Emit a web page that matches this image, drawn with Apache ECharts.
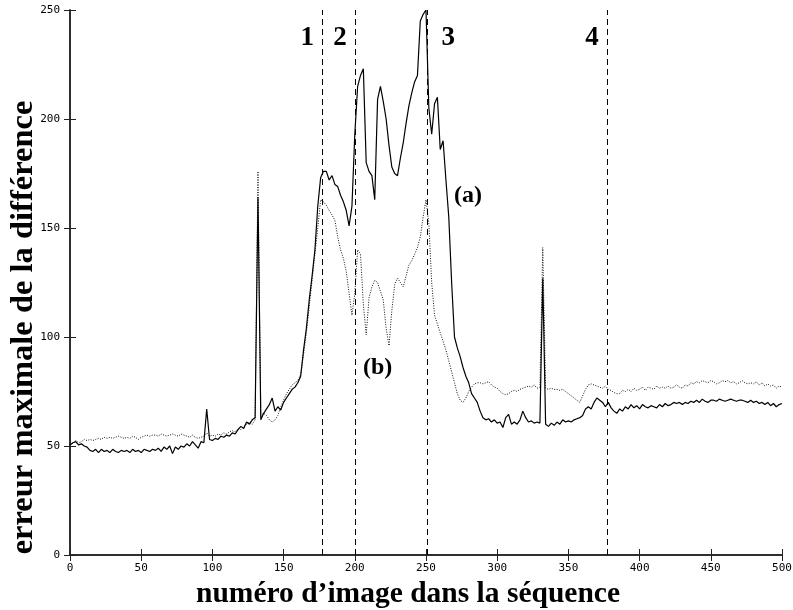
<!DOCTYPE html>
<html>
<head>
<meta charset="utf-8">
<script src="https://cdn.jsdelivr.net/npm/echarts@6/dist/echarts.min.js"></script>
<style>
html,body{margin:0;padding:0;background:#fff;}
#chart{width:793px;height:610px;}
</style>
</head>
<body>
<div id="chart"></div>
<script>
// Frame numbers sampled every 2 frames, 0..500
const frames = [];
for (let f = 0; f <= 500; f += 2) frames.push(f);

// (a) solid curve
const curveA = [
  50.5, 51.5, 52, 50.5, 51, 50, 49.5, 48, 47.5, 48.5,
  47, 48.5, 47.5, 48, 47, 48.5, 47.5, 47, 48, 47.5,
  48, 47, 48.5, 47.5, 48, 47, 48.5, 48, 47.5, 48.5,
  48, 49, 47.5, 49.5, 48.5, 50, 46.5, 49.5, 48.5, 50,
  49.5, 51, 50, 52, 50.5, 49, 52, 51.5, 67, 53,
  52.5, 53.5, 53, 54.5, 54, 55, 54.5, 56, 55.5, 57.5,
  59, 58, 61, 60, 62, 63, 164, 62, 65, 67,
  69, 72, 66, 68, 66.5, 70, 72, 74, 76, 77,
  79, 82, 94, 104, 117, 128, 140, 160, 173, 176,
  176, 172, 174, 170, 169, 165, 162, 158, 151, 160,
  193, 215, 220, 223, 180, 176, 174, 163, 209, 215,
  208, 200, 188, 178, 175, 174, 182, 189, 198, 206,
  212, 217, 220, 245, 248, 250, 205, 193, 207, 210,
  186, 190, 172, 155, 125, 100, 95, 91, 86, 82,
  79, 74, 72, 70, 66, 63, 62, 62.5, 61, 62,
  60.5, 61, 58.5, 63, 64.5, 60, 61, 60, 62, 66,
  63, 61, 61.5, 60.5, 61, 60.5, 127, 60, 59, 60.5,
  59.5, 61, 60, 62, 61, 61.5, 61, 62, 62.5, 63,
  64, 67, 68, 67, 70, 72, 71, 70, 68, 70,
  67.5, 66, 65, 67, 66, 68, 67, 69, 67.5, 68.5,
  67, 69, 68, 67.5, 68.5, 68, 67.5, 69, 68, 69.5,
  68.5, 69, 70, 69.5, 70, 69, 70, 69.5, 70.5, 70,
  71, 70, 71.5, 70.5, 70, 71, 71, 70.5, 71.5, 71,
  70.5, 71, 71.5, 71, 70.5, 71, 71, 70.5, 70, 71,
  70, 70.5, 69.5, 70, 69, 70, 68.5, 69.5, 68, 69,
  69.5
];

// (b) dotted curve
const curveB = [
  52, 51, 52.5, 51.5, 52, 53, 52.5, 53, 52.5, 53,
  53.5, 53, 54, 53.5, 54, 53.5, 54, 54.5, 54, 53.5,
  54, 53.5, 54.5, 54, 53, 54, 54.5, 55, 54.5, 55,
  55, 54.5, 55.5, 55, 54.5, 55, 55.5, 55, 54.5, 55.5,
  55, 54.5, 54, 55, 54, 53.5, 54, 54.5, 56, 54.5,
  55, 54.5, 55.5, 55, 56, 55.5, 56.5, 57, 56.5, 58,
  57.5, 59, 60, 61, 60, 62, 176, 64, 65, 64,
  62, 61, 62, 64, 68, 71, 74, 76, 78, 79,
  80, 83, 92, 102, 114, 126, 138, 150, 163, 162,
  160.5, 158, 156, 153.5, 146, 140, 136, 130, 120, 110,
  120, 140, 138, 115, 101, 118, 123, 126, 125, 121,
  117, 104, 96, 112, 124, 127, 125, 123, 128, 133,
  135, 138, 141, 146, 155, 163, 152, 125, 110, 106,
  102, 98, 94, 89, 84, 79, 74, 71, 70, 72,
  75, 77, 78.5, 79, 79, 78.5, 79, 79.5, 78, 77,
  76.5, 75, 74, 73.5, 74, 75, 75.5, 75, 76, 76.5,
  77, 77.5, 77, 78, 76.5, 77, 141, 76.5, 76, 76.5,
  76, 76, 75.5, 76, 75, 74, 73, 72, 71, 70,
  73, 76, 78, 78.5, 78, 77.5, 77, 76.5, 77.5, 76,
  75.5, 74.5, 74, 74, 75.5, 75, 76, 75, 76.5, 75.5,
  76, 77, 75.5, 77, 76.5, 76, 77.5, 76.5, 77, 76.5,
  77.5, 76.5, 77, 78, 77, 76.5, 78, 77.5, 79, 78.5,
  79.5, 79, 80, 79.5, 79, 80, 79.5, 78.5, 79, 80,
  79.5, 80, 79, 79.5, 78.5, 79, 80, 79, 78.5, 79,
  78.5, 79.5, 78, 79, 77.5, 78.5, 77.5, 78, 76.5, 77.5,
  77
];

// Event markers (dashed vertical lines)
const eventFrames = [177, 200, 251, 377];
const eventLabels = ['1', '2', '3', '4'];
const eventLabelSide = ['left', 'left', 'right', 'left'];
const eventLabelValue = 237;

// Curve annotations
const annotFrames = [279.5, 216];
const annotValues = [165, 86];
const annotLabels = ['(a)', '(b)'];

const xTicks = { min: 0, max: 500, interval: 50 };
const yTicks = { min: 0, max: 250, interval: 50 };

const serifFamily = '"Liberation Serif", "DejaVu Serif", serif';
const monoLabel = { fontFamily: '"DejaVu Sans Mono", "Liberation Mono", monospace', fontSize: 11, color: '#000' };

const pairsA = frames.map((f, i) => [f, curveA[i]]);
const pairsB = frames.map((f, i) => [f, curveB[i]]);

const axisLineStyle = { show: true, lineStyle: { color: '#222', width: 1.5 } };
const tickStyle = { show: true, inside: true, length: 6, lineStyle: { color: '#222', width: 1 } };

const chart = echarts.init(document.getElementById('chart'), null, { renderer: 'canvas' });
chart.setOption({
  animation: false,
  backgroundColor: '#fff',
  grid: { left: 70, right: 11, top: 10, bottom: 55, containLabel: false, outerBoundsMode: 'none' },
  xAxis: [
    {
      type: 'value', position: 'bottom', min: xTicks.min, max: xTicks.max, interval: xTicks.interval,
      axisLine: axisLineStyle, axisTick: tickStyle, splitLine: { show: false },
      axisLabel: Object.assign({ margin: 8 }, monoLabel),
      name: 'numéro d’image dans la séquence', nameLocation: 'middle', nameGap: 23,
      nameTextStyle: { fontFamily: serifFamily, fontWeight: 'bold', fontSize: 29.5, color: '#000', padding: [0, 36, 0, 0] }
    },
    {
      type: 'value', position: 'top', min: xTicks.min, max: xTicks.max, interval: xTicks.interval,
      axisLine: axisLineStyle, axisTick: tickStyle, splitLine: { show: false },
      axisLabel: { show: false }
    }
  ],
  yAxis: [
    {
      type: 'value', position: 'left', min: yTicks.min, max: yTicks.max, interval: yTicks.interval,
      axisLine: axisLineStyle, axisTick: tickStyle, splitLine: { show: false },
      axisLabel: Object.assign({ margin: 10 }, monoLabel),
      name: 'erreur maximale de la différence', nameLocation: 'middle', nameGap: 30, nameMoveOverlap: false,
      nameTextStyle: { fontFamily: serifFamily, fontWeight: 'bold', fontSize: 32.5, color: '#000', padding: [0, 90, 0, 0] }
    },
    {
      type: 'value', position: 'right', min: yTicks.min, max: yTicks.max, interval: yTicks.interval,
      axisLine: axisLineStyle, axisTick: tickStyle, splitLine: { show: false },
      axisLabel: { show: false }
    }
  ],
  series: [
    {
      name: '(b)', type: 'line', data: pairsB, showSymbol: false, sampling: null,
      lineStyle: { color: '#111', width: 1, type: [1, 1.5] }, z: 2
    },
    {
      name: '(a)', type: 'line', data: pairsA, showSymbol: false,
      lineStyle: { color: '#000', width: 1.2 }, z: 3,
      markLine: {
        silent: true, symbol: ['none', 'none'],
        lineStyle: { color: '#000', width: 1, type: [6, 4] },
        label: { show: false },
        data: eventFrames.map(f => ({ xAxis: f }))
      }
    },
    {
      name: 'events', type: 'scatter', symbolSize: 0, z: 5,
      itemStyle: { opacity: 1 },
      data: eventFrames.map((f, i) => ({
        value: [f, eventLabelValue],
        label: { position: eventLabelSide[i], distance: eventLabelSide[i] === 'left' ? 8 : 14 }
      })),
      label: {
        show: true, formatter: p => eventLabels[p.dataIndex], opacity: 1,
        fontFamily: serifFamily, fontWeight: 'bold', fontSize: 27, color: '#000'
      }
    },
    {
      name: 'annotations', type: 'scatter', symbolSize: 0, z: 5,
      itemStyle: { opacity: 1 },
      data: annotFrames.map((f, i) => [f, annotValues[i]]),
      label: {
        show: true, position: 'inside', formatter: p => annotLabels[p.dataIndex], opacity: 1,
        fontFamily: serifFamily, fontWeight: 'bold', fontSize: 24, color: '#000'
      }
    }
  ]
});
</script>
</body>
</html>
